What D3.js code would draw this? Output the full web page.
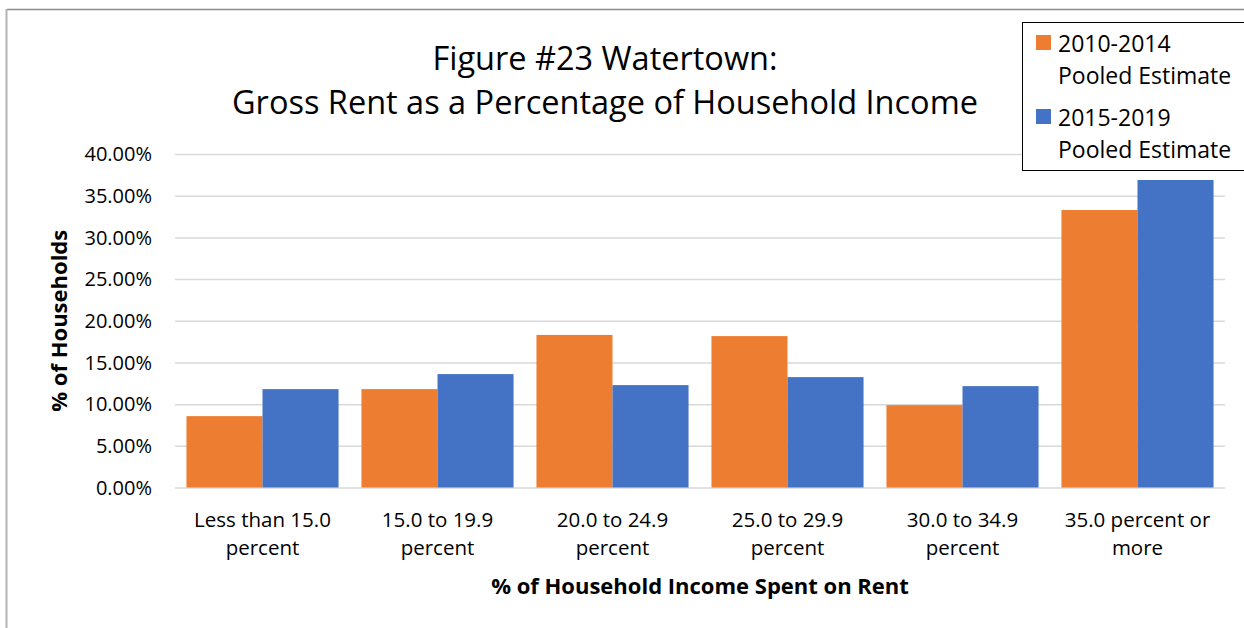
<!DOCTYPE html>
<html lang="en"><head>
<meta charset="utf-8"/>
<title>Figure #23 Watertown</title>
<script src="https://d3js.org/d3.v7.min.js"></script>
<style>
  body { margin: 0; padding: 0; width: 1244px; height: 628px; background: #fff; overflow: hidden; }
  svg text { font-family: 'Open Sans', 'Noto Sans', sans-serif; fill: #000; }
  .grid line { stroke: #d9d9d9; stroke-width: 1.5px; }
  .grid path { display: none; }
</style>
</head>
<body>
<svg id="chart" width="1244" height="628"></svg>
<script>
  // categories and series
  const categories = [
    ["Less than 15.0", "percent"],
    ["15.0 to 19.9", "percent"],
    ["20.0 to 24.9", "percent"],
    ["25.0 to 29.9", "percent"],
    ["30.0 to 34.9", "percent"],
    ["35.0 percent or", "more"]
  ];
  const seriesNames = ["2010-2014 Pooled Estimate", "2015-2019 Pooled Estimate"];
  const pooled2010 = [8.56, 11.80, 18.30, 18.16, 9.88, 33.28];
  const pooled2015 = [11.80, 13.60, 12.28, 13.24, 12.16, 36.88];
  const yTicks = [0, 5, 10, 15, 20, 25, 30, 35, 40];
  const colors = ["#ed7d31", "#4472c4"];

  const svg = d3.select("#chart");
  const plot = {left: 175, right: 1225, top: 154, bottom: 487.5};

  // outer chart border (only top and left edges are visible in the crop)
  svg.append("line").attr("x1", 6.5).attr("x2", 1244).attr("y1", 9.5).attr("y2", 9.5)
     .attr("stroke", "#8c8c8c").attr("stroke-width", 1.5);
  svg.append("line").attr("x1", 6.5).attr("x2", 6.5).attr("y1", 9).attr("y2", 628)
     .attr("stroke", "#b3b3b3").attr("stroke-width", 2);

  const catKeys = categories.map(c => c.join(" "));
  const x0 = d3.scaleBand().domain(catKeys).range([plot.left, plot.right])
      .paddingInner(0.131).paddingOuter(0.0655);
  const x1 = d3.scaleBand().domain(seriesNames).range([0, x0.bandwidth()]);
  const y = d3.scaleLinear().domain([0, 40]).range([plot.bottom, plot.top]);

  // gridlines
  svg.append("g").attr("class", "grid")
     .attr("transform", `translate(${plot.left},0)`)
     .call(d3.axisLeft(y).tickValues(yTicks).tickSize(-(plot.right - plot.left)).tickFormat(""));

  // y tick labels
  svg.append("g").selectAll("text").data(yTicks).enter().append("text")
     .attr("x", 152).attr("y", d => y(d)).attr("dy", "0.36em")
     .attr("text-anchor", "end").style("font-size", "20px")
     .text(d => d3.format(".2f")(d) + "%");

  // bars
  const rows = catKeys.map((k, i) => ({key: k, vals: [pooled2010[i], pooled2015[i]]}));
  const groups = svg.append("g").selectAll("g").data(rows).enter().append("g")
     .attr("transform", d => `translate(${x0(d.key)},0)`);
  groups.selectAll("rect").data(d => d.vals.map((v, j) => ({s: seriesNames[j], v, j})))
     .enter().append("rect")
     .attr("x", d => x1(d.s)).attr("width", x1.bandwidth())
     .attr("y", d => y(d.v)).attr("height", d => y(0) - y(d.v))
     .attr("fill", d => colors[d.j]);

  // x category labels (two lines)
  const cx = (d, i) => x0(catKeys[i]) + x0.bandwidth() / 2;
  const xl = svg.append("g").selectAll("text").data(categories).enter().append("text")
     .attr("text-anchor", "middle").style("font-size", "20.5px");
  xl.append("tspan").attr("y", 527).attr("x", cx).text(d => d[0]);
  xl.append("tspan").attr("y", 555).attr("x", cx).text(d => d[1]);

  // axis titles
  svg.append("text").attr("x", (plot.left + plot.right) / 2).attr("y", 594)
     .attr("text-anchor", "middle").style("font-size", "22px").style("font-weight", "bold")
     .text("% of Household Income Spent on Rent");
  svg.append("text").attr("transform", `translate(67,${(plot.top + plot.bottom) / 2}) rotate(-90)`)
     .attr("text-anchor", "middle").style("font-size", "22px").style("font-weight", "bold")
     .text("% of Households");

  // title
  const title = svg.append("text").attr("text-anchor", "middle").style("font-size", "32.5px");
  title.append("tspan").attr("x", 605).attr("y", 70).text("Figure #23 Watertown:");
  title.append("tspan").attr("x", 605).attr("y", 114).text("Gross Rent as a Percentage of Household Income");

  // legend
  const legend = svg.append("g");
  legend.append("rect").attr("x", 1022.5).attr("y", 22.5).attr("width", 230).attr("height", 148)
     .attr("fill", "#fff").attr("stroke", "#000").attr("stroke-width", 1);
  const lItems = legend.selectAll("g").data(seriesNames).enter().append("g")
     .attr("transform", (d, i) => `translate(0,${i * 74})`);
  lItems.append("rect").attr("x", 1036).attr("y", 35).attr("width", 15).attr("height", 15)
     .attr("fill", (d, i) => colors[i]);
  const lt = lItems.append("text").style("font-size", "23px");
  lt.append("tspan").attr("x", 1058).attr("y", 52).text(d => d.split(" ")[0]);
  lt.append("tspan").attr("x", 1058).attr("y", 84).text(d => d.split(" ").slice(1).join(" "));
</script>
</body></html>
